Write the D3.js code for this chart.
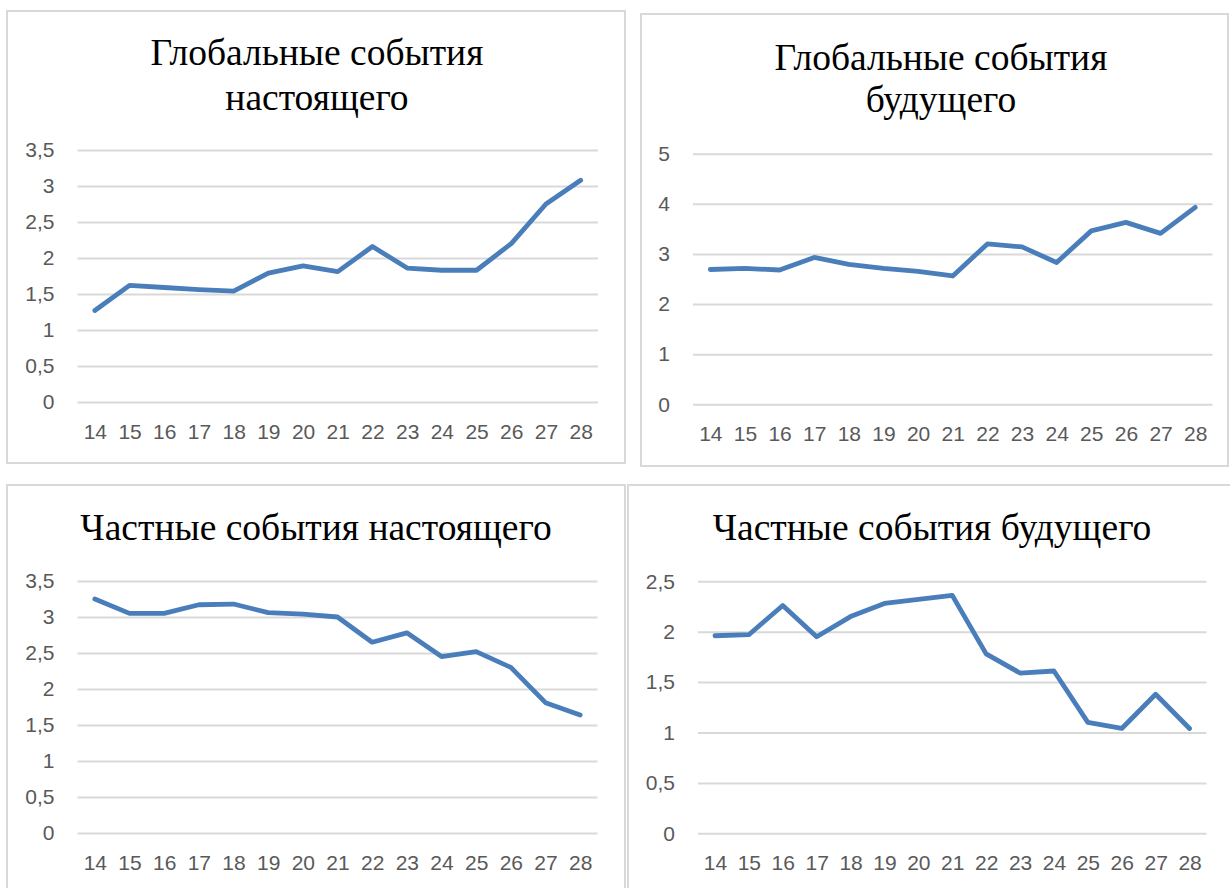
<!DOCTYPE html>
<html>
<head>
<meta charset="utf-8">
<script src="https://cdn.jsdelivr.net/npm/d3@7"></script>
<style>
  body { margin: 0; background: #fff; }
  svg { display: block; }
</style>
</head>
<body>
<svg id="chart" width="1230" height="888"></svg>
<script>
// ages on the x axis
var ages = ["14", "15", "16", "17", "18", "19", "20", "21", "22", "23", "24", "25", "26", "27", "28"];

// values
var globalPresent = [1.27, 1.62, 1.59, 1.56, 1.54, 1.79, 1.89, 1.81, 2.16, 1.86, 1.83, 1.83, 2.20, 2.75, 3.08];
var globalFuture  = [2.69, 2.71, 2.68, 2.93, 2.79, 2.71, 2.65, 2.56, 3.20, 3.14, 2.83, 3.46, 3.63, 3.41, 3.93];
var privatePresent = [3.25, 3.05, 3.05, 3.17, 3.18, 3.06, 3.04, 3.00, 2.65, 2.78, 2.45, 2.52, 2.30, 1.81, 1.64];
var privateFuture  = [1.96, 1.97, 2.26, 1.95, 2.15, 2.28, 2.32, 2.36, 1.78, 1.59, 1.61, 1.10, 1.04, 1.38, 1.04];

// y tick values per panel
var ticksHalf35 = [0, 0.5, 1, 1.5, 2, 2.5, 3, 3.5];
var ticksOne5 = [0, 1, 2, 3, 4, 5];
var ticksHalf25 = [0, 0.5, 1, 1.5, 2, 2.5];

var titles = [
    ["Глобальные события", "настоящего"],
    ["Глобальные события", "будущего"],
    ["Частные события настоящего"],
    ["Частные события будущего"]
];

var lineColor = "#4a7ebb",
    gridColor = "#d9d9d9",
    textColor = "#595959";

// layout of each panel (frame, plot area, title)
var panels = [
    {box: [7, 11, 625, 463], x: [77.5, 598], y: [150, 402], titleX: 317, titleY: [52, 97], values: globalPresent, ticks: ticksHalf35, title: titles[0]},
    {box: [641, 14, 1228, 466], x: [693, 1212.5], y: [153.7, 404.3], titleX: 941, titleY: [57, 99], values: globalFuture, ticks: ticksOne5, title: titles[1]},
    {box: [7, 485, 625, 900], x: [77.5, 597.5], y: [581, 833], titleX: 316, titleY: [527], values: privatePresent, ticks: ticksHalf35, title: titles[2]},
    {box: [628, 485, 1240, 900], x: [698, 1206.5], y: [581.3, 833.3], titleX: 932, titleY: [527], values: privateFuture, ticks: ticksHalf25, title: titles[3]}
];

var svg = d3.select("#chart");

function fmt(v) {
    return String(v).replace(".", ",");
}

panels.forEach(function (p) {
    var g = svg.append("g");

    g.append("rect")
        .attr("x", p.box[0])
        .attr("y", p.box[1])
        .attr("width", p.box[2] - p.box[0])
        .attr("height", p.box[3] - p.box[1])
        .attr("fill", "#fff")
        .attr("stroke", gridColor)
        .attr("stroke-width", 2);

    p.title.forEach(function (t, i) {
        g.append("text")
            .attr("x", p.titleX)
            .attr("y", p.titleY[i])
            .attr("dy", "0.35em")
            .attr("text-anchor", "middle")
            .attr("font-family", "'Liberation Serif', 'Times New Roman', serif")
            .attr("font-size", 37.5)
            .attr("fill", "#000")
            .text(t);
    });

    var xScale = d3.scalePoint()
        .domain(ages)
        .range(p.x)
        .padding(0.5);

    var yScale = d3.scaleLinear()
        .domain([0, d3.max(p.ticks)])
        .range([p.y[1], p.y[0]]);

    // grid + y labels
    var yAxis = d3.axisLeft(yScale)
        .tickValues(p.ticks)
        .tickSize(-(p.x[1] - p.x[0]))
        .tickPadding(23)
        .tickFormat(fmt);

    var ya = g.append("g")
        .attr("transform", "translate(" + p.x[0] + ",0)")
        .call(yAxis);
    ya.select(".domain").remove();
    ya.selectAll(".tick line").attr("stroke", gridColor).attr("stroke-width", 2);
    ya.selectAll(".tick text")
        .attr("font-family", "'Liberation Sans', Arial, sans-serif")
        .attr("font-size", 21)
        .attr("fill", textColor);

    // x labels
    var xAxis = d3.axisBottom(xScale).tickSize(0).tickPadding(22);
    var xa = g.append("g")
        .attr("transform", "translate(0," + p.y[1] + ")")
        .call(xAxis);
    xa.select(".domain").remove();
    xa.selectAll(".tick text")
        .attr("font-family", "'Liberation Sans', Arial, sans-serif")
        .attr("font-size", 21)
        .attr("fill", textColor);

    var line = d3.line()
        .x(function (d, i) { return xScale(ages[i]); })
        .y(function (d) { return yScale(d); });

    g.append("path")
        .datum(p.values)
        .attr("d", line)
        .attr("fill", "none")
        .attr("stroke", lineColor)
        .attr("stroke-width", 4.8)
        .attr("stroke-linejoin", "round")
        .attr("stroke-linecap", "round");
});
</script>
</body>
</html>
